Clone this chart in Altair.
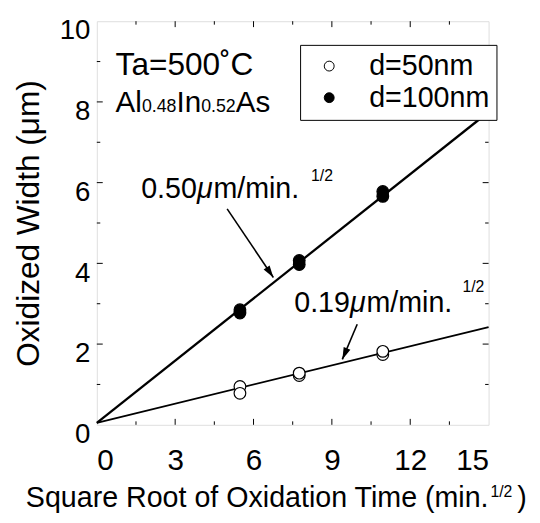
import math
import altair as alt
import pandas as pd

# ---- data ----
x_ticks = [0, 3, 6, 9, 12, 15]
x_minor = [1.5, 4.5, 7.5, 10.5, 13.5]
y_ticks = [0, 2, 4, 6, 8, 10]
y_minor = [1, 3, 5, 7, 9]

sqrt_t = [5.48, 5.48, 7.75, 7.75, 10.95, 10.95]
w_50nm = [0.95, 0.78, 1.22, 1.28, 1.74, 1.82]
w_100nm = [2.77, 2.85, 3.97, 4.07, 5.66, 5.78]

fit_x = [0, 15]
fit_50nm = [0.05, 2.42]
fit_100nm = [0.05, 7.75]

arrow_start_x = [4.99, 9.97]
arrow_start_y = [5.35, 2.49]
arrow_tip_x = [6.76, 9.40]
arrow_tip_y = [3.65, 1.62]

series = ["d=50nm", "d=100nm"]

W, H = 397, 409
XMAX, YMAX = 15, 10
FONT = "Liberation Sans"
PX_X = W / XMAX
PX_Y = H / YMAX

xs = alt.Scale(domain=[0, XMAX], nice=False, zero=False)
ys = alt.Scale(domain=[0, YMAX], nice=False, zero=False)

# points
pts = pd.DataFrame({
    "x": sqrt_t * 2,
    "y": w_50nm + w_100nm,
    "series": [series[0]] * len(sqrt_t) + [series[1]] * len(sqrt_t),
})

points = alt.Chart(pts).mark_point(
    shape="circle", size=140, strokeWidth=1.2, stroke="black", opacity=1, filled=True
).encode(
    x=alt.X("x:Q", scale=xs, axis=alt.Axis(
        values=x_ticks, title=None, labelFontSize=30, labelFont=FONT, labelColor="black",
        labelPadding=21, ticks=False, domain=False, grid=False)),
    y=alt.Y("y:Q", scale=ys, axis=alt.Axis(
        values=y_ticks, title="Oxidized Width (μm)", labelFontSize=28, labelFont=FONT,
        labelColor="black", labelPadding=7, labelOffset=10, ticks=False, domain=False,
        grid=False, titleFont=FONT, titleFontSize=32, titleFontWeight="normal",
        titleColor="black", titlePadding=14)),
    fill=alt.Fill("series:N", scale=alt.Scale(domain=series, range=["white", "black"]),
                  legend=alt.Legend(
                      title=None, orient="none", legendX=206, legendY=24,
                      strokeColor="black", fillColor="white", padding=7,
                      labelFont=FONT, labelFontSize=29, labelColor="black",
                      labelBaseline="middle", symbolType="circle", symbolSize=100,
                      symbolStrokeColor="black", symbolStrokeWidth=1,
                      symbolOffset=8, labelOffset=26, rowPadding=2, cornerRadius=0)),
)

# fitted lines
fits = pd.DataFrame({
    "x": fit_x * 2,
    "y": fit_50nm + fit_100nm,
    "series": [series[0]] * 2 + [series[1]] * 2,
})
line50 = alt.Chart(fits[fits.series == series[0]]).mark_line(color="black", strokeWidth=1.8).encode(
    x=alt.X("x:Q", scale=xs), y=alt.Y("y:Q", scale=ys))
line100 = alt.Chart(fits[fits.series == series[1]]).mark_line(color="black", strokeWidth=2.3).encode(
    x=alt.X("x:Q", scale=xs), y=alt.Y("y:Q", scale=ys))

# inward ticks on all four sides
tk = []
for v in x_ticks[1:-1]:
    tk.append({"x": v, "x2": v, "y": 0, "y2": 6 / PX_Y})
    tk.append({"x": v, "x2": v, "y": YMAX, "y2": YMAX - 6 / PX_Y})
for v in x_minor:
    tk.append({"x": v, "x2": v, "y": 0, "y2": 3.5 / PX_Y})
    tk.append({"x": v, "x2": v, "y": YMAX, "y2": YMAX - 3.5 / PX_Y})
for v in y_ticks[1:-1]:
    tk.append({"x": 0, "x2": 6 / PX_X, "y": v, "y2": v})
    tk.append({"x": XMAX, "x2": XMAX - 6 / PX_X, "y": v, "y2": v})
for v in y_minor:
    tk.append({"x": 0, "x2": 3.5 / PX_X, "y": v, "y2": v})
    tk.append({"x": XMAX, "x2": XMAX - 3.5 / PX_X, "y": v, "y2": v})
ticks = alt.Chart(pd.DataFrame(tk)).mark_rule(color="black", strokeWidth=1).encode(
    x=alt.X("x:Q", scale=xs), x2="x2:Q", y=alt.Y("y:Q", scale=ys), y2="y2:Q")

# arrows
arr = pd.DataFrame({"x": arrow_start_x, "y": arrow_start_y, "x2": arrow_tip_x, "y2": arrow_tip_y})
shafts = alt.Chart(arr).mark_rule(color="black", strokeWidth=1.6).encode(
    x=alt.X("x:Q", scale=xs), y=alt.Y("y:Q", scale=ys), x2="x2:Q", y2="y2:Q")
heads = []
for sx, sy, tx, ty in zip(arrow_start_x, arrow_start_y, arrow_tip_x, arrow_tip_y):
    dxp = (tx - sx) * PX_X
    dyp = -(ty - sy) * PX_Y
    ang = math.degrees(math.atan2(dxp, -dyp)) % 360
    heads.append(alt.Chart(pd.DataFrame({"x": [tx], "y": [ty]})).mark_point(
        shape="M0,0L-0.6,2L0.6,2Z", size=150, filled=True, color="black", opacity=1,
        angle=ang).encode(x=alt.X("x:Q", scale=xs), y=alt.Y("y:Q", scale=ys)))


def txt(x, y, text, size, dx=0, align="left", style="normal"):
    return alt.Chart(pd.DataFrame({"x": [x], "y": [y], "t": [text]})).mark_text(
        font=FONT, fontSize=size, align=align, baseline="alphabetic", dx=dx,
        color="black", fontStyle=style).encode(
        x=alt.X("x:Q", scale=xs), y=alt.Y("y:Q", scale=ys), text="t:N")


def width(s, size):
    w = {"0": .556, "1": .556, "2": .556, "3": .556, "4": .556, "5": .556, "6": .556,
         "7": .556, "8": .556, "9": .556, ".": .278, "A": .667, "l": .222, "I": .278,
         "n": .556, "s": .5, "μ": .576, "m": .833, "/": .278, "i": .222}
    return sum(w[c] for c in s) * size


texts = []
# Ta=500°C
texts.append(txt(0.72, 8.66, "Ta=500˚C", 32))
# Al0.48In0.52As
parts = [("Al", 30), ("0.48", 18), ("In", 30), ("0.52", 18), ("As", 30)]
off = 0
for s, fs in parts:
    texts.append(txt(0.72, 7.75, s, fs, dx=off))
    off += width(s, fs)

# rate annotations
for (x0, y0, num, sx, sy) in [(1.70, 5.62, "0.50", 8.2, 6.04), (7.56, 2.79, "0.19", 14.0, 3.28)]:
    texts.append(txt(x0, y0, num, 29))
    texts.append(txt(x0, y0, "μ", 29, dx=width(num, 29), style="italic"))
    texts.append(txt(x0, y0, "m/min.", 29, dx=width(num + "μ", 29)))
    texts.append(txt(sx, sy, "1/2", 16))

# x-axis title with superscript
texts.append(txt(15.0, -2.03, "Square Root of Oxidation Time (min.", 29, align="right"))
texts.append(txt(15.07, -1.78, "1/2", 16))
texts.append(txt(16.1, -2.03, ")", 29))

chart = alt.layer(line50, line100, ticks, shafts, *heads, points, *texts).properties(
    width=W, height=H, autosize=alt.AutoSizeParams(type="none"),
    padding={"left": 90, "top": 10, "right": 44, "bottom": 86},
).configure_view(stroke="black", strokeWidth=1.5).configure(background="white")

chart.save("out.html", embed_options={"renderer": "svg", "actions": False})
